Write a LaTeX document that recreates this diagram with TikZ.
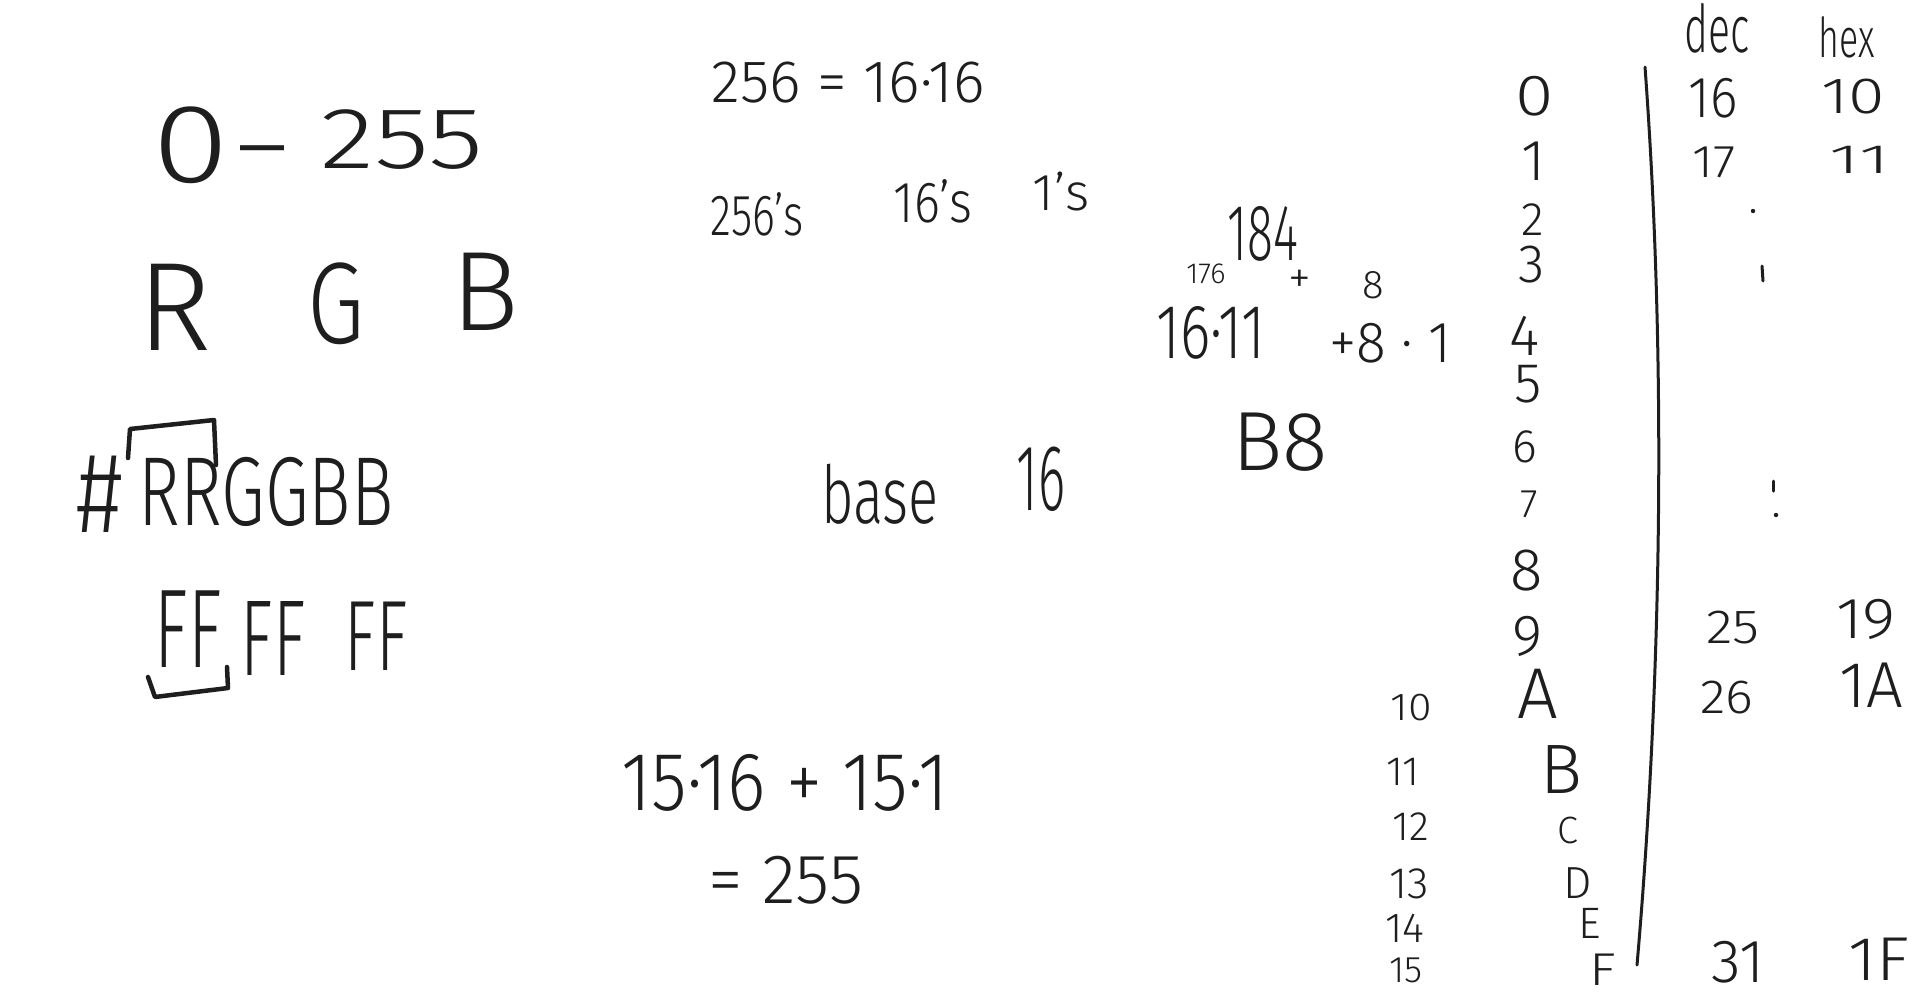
\documentclass[tikz,border=0pt]{standalone}
\usepackage{fontspec}
\setmainfont{Fira Sans Light}
\definecolor{ink}{HTML}{1E1E1E}
\newcommand\hwsize[1]{\fontsize{#1}{#1}\selectfont}
\newcommand\sq[2]{\scalebox{#1}[1]{#2}}
\tikzset{
  hw/.style={inner sep=0pt,outer sep=0pt,anchor=base,text=ink},
  pen/.style={draw=ink,line width=4.5pt,line cap=round,line join=round},
  thinpen/.style={draw=ink,line width=3pt,line cap=round,line join=round}
}
\begin{document}
\begin{tikzpicture}[x=1pt,y=-1pt]
\fill[white] (0,0) rectangle (1920,997);
\useasboundingbox (0,0) rectangle (1920,997);

% 0 - 255
\node[hw,font=\hwsize{112}] (zero) at (191,182) {\sq{1.25}{0}};
\node[hw,anchor=center,font=\hwsize{100}] (dash) at (262,163) {–};
\node[hw,font=\hwsize{87}] (tff) at (402,168) {\sq{1.3}{255}};

% R G B
\node[hw,font=\hwsize{126}] (lr) at (175,350) {R};
\node[hw,font=\hwsize{116}] (lg) at (336,343) {\sq{0.8}{G}};
\node[hw,font=\hwsize{113}] (lb) at (485,330) {B};

% #RRGGBB
\node[hw,font=\hwsize{115}] (hash) at (100,532) {\sq{0.8}{\#}};
\node[hw,font=\hwsize{98}] (rrggbb) at (266,525) {\sq{0.72}{RRGGBB}};
\coordinate (b1a) at (128,458);
\coordinate (b1b) at (130,429);
\coordinate (b1c) at (214,420);
\coordinate (b1d) at (216,465);
\draw[pen] (b1a) -- (b1b) -- (b1c) -- (b1d);

% FF FF FF
\node[hw,font=\hwsize{112}] (ff1) at (188,667) {\sq{0.62}{FF}};
\node[hw,font=\hwsize{108}] (ff2) at (273,675) {\sq{0.62}{FF}};
\node[hw,font=\hwsize{100}] (ff3) at (376,670) {\sq{0.65}{FF}};
\coordinate (b2a) at (148,677);
\coordinate (b2b) at (155,697);
\coordinate (b2c) at (228,688);
\coordinate (b2d) at (227,667);
\draw[pen] (b2a) -- (b2b) -- (b2c) -- (b2d);

% middle column
\node[hw,font=\hwsize{60}] (eq) at (848,102) {256 = 16·16};
\node[hw,font=\hwsize{58}] (p256) at (757,235) {\sq{0.75}{256's}};
\node[hw,font=\hwsize{58}] (p16) at (933,222) {\sq{0.85}{16's}};
\node[hw,font=\hwsize{52}] (p1) at (1061,210) {1's};
\node[hw,font=\hwsize{80}] (base) at (880,523) {\sq{0.7}{base}};
\node[hw,font=\hwsize{94}] (sixteen) at (1041,510) {\sq{0.55}{16}};
\node[hw,font=\hwsize{83}] (sum) at (785,810) {\sq{0.88}{15·16 + 15·1}};
\node[hw,font=\hwsize{70}] (res) at (786,903) {= 255};

% 184 example
\node[hw,font=\hwsize{80}] (n184) at (1263,260) {\sq{0.6}{184}};
\node[hw,font=\hwsize{29}] (n176) at (1206,283) {176};
\node[hw,anchor=center,font=\hwsize{46}] (plus) at (1300,282) {+};
\node[hw,font=\hwsize{40}] (n8) at (1373,298) {8};
\node[hw,font=\hwsize{77}] (prod) at (1211,358) {\sq{0.75}{16·11}};
\node[hw,font=\hwsize{58}] (prod2) at (1390,362) {\sq{0.95}{+8 · 1}};
\node[hw,font=\hwsize{84}] (b8) at (1280,470) {B8};

% header
\node[hw,font=\hwsize{66}] (dec) at (1717,52) {\sq{0.62}{dec}};
\node[hw,font=\hwsize{55}] (hex) at (1847,57) {\sq{0.65}{hex}};

% hex digit column
\node[hw,font=\hwsize{58}] (d0) at (1535,115) {\sq{1.2}{0}};
\node[hw,font=\hwsize{58}] (d1) at (1533,180) {1};
\node[hw,font=\hwsize{47}] (d2) at (1533,235) {2};
\node[hw,font=\hwsize{54}] (d3) at (1532,282) {3};
\node[hw,font=\hwsize{58}] (d4) at (1525,355) {4};
\node[hw,font=\hwsize{56}] (d5) at (1528,402) {5};
\node[hw,font=\hwsize{47}] (d6) at (1525,462) {6};
\node[hw,font=\hwsize{40}] (d7) at (1529,517) {7};
\node[hw,font=\hwsize{60}] (d8) at (1527,590) {8};
\node[hw,font=\hwsize{58}] (d9) at (1528,655) {9};
\node[hw,font=\hwsize{72}] (dA) at (1538,718) {A};
\node[hw,font=\hwsize{70}] (dB) at (1561,793) {B};
\node[hw,font=\hwsize{38}] (dC) at (1568,843) {C};
\node[hw,font=\hwsize{45}] (dD) at (1578,898) {D};
\node[hw,font=\hwsize{44}] (dE) at (1590,938) {E};
\node[hw,font=\hwsize{46}] (dF) at (1603,985) {\sq{1.2}{F}};

% decimal labels
\node[hw,font=\hwsize{39}] (l10) at (1411,720) {\sq{1.1}{10}};
\node[hw,font=\hwsize{41}] (l11) at (1403,785) {11};
\node[hw,font=\hwsize{41}] (l12) at (1411,840) {12};
\node[hw,font=\hwsize{44}] (l13) at (1409,898) {13};
\node[hw,font=\hwsize{42}] (l14) at (1405,942) {14};
\node[hw,font=\hwsize{37}] (l15) at (1406,982) {15};

% divider
\coordinate (vtop) at (1645,67);
\coordinate (vbot) at (1637,965);
\draw[thinpen] (vtop) .. controls (1668,380) and (1660,700) .. (vbot);

% dec / hex values
\node[hw,font=\hwsize{58}] (r16) at (1713,117) {\sq{0.9}{16}};
\node[hw,font=\hwsize{51}] (r10) at (1853,113) {\sq{1.3}{10}};
\node[hw,font=\hwsize{46}] (r17) at (1714,177) {\sq{1.1}{17}};
\node[hw,font=\hwsize{41}] (r11) at (1860,173) {\sq{1.8}{11}};
\node[hw,font=\hwsize{48}] (r25) at (1733,643) {\sq{1.15}{25}};
\node[hw,font=\hwsize{58}] (r19) at (1866,638) {\sq{1.1}{19}};
\node[hw,font=\hwsize{48}] (r26) at (1727,713) {\sq{1.1}{26}};
\node[hw,font=\hwsize{65}] (r1A) at (1871,707) {1A};
\node[hw,font=\hwsize{61}] (r31) at (1738,982) {31};
\node[hw,font=\hwsize{62}] (r1F) at (1879,980) {\sq{1.1}{1F}};

% ellipsis marks
\fill[ink] (1753,211) circle (2.2);
\coordinate (t1a) at (1762,266);
\coordinate (t1b) at (1763,281);
\draw[thinpen] (t1a) -- (t1b);
\coordinate (t2a) at (1773,481);
\coordinate (t2b) at (1773,491);
\draw[thinpen] (t2a) -- (t2b);
\fill[ink] (1776,515) circle (2.2);
\end{tikzpicture}
\end{document}
